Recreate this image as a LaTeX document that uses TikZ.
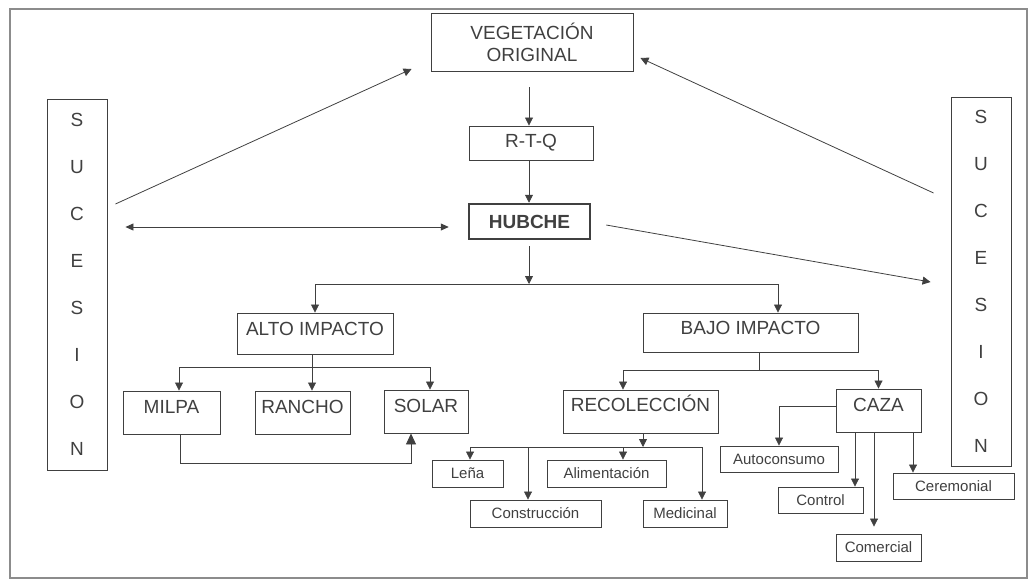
\documentclass[tikz,border=0pt]{standalone}
\usepackage{fontspec}
\setmainfont{Liberation Sans}
\usetikzlibrary{arrows.meta,positioning}
\definecolor{ink}{gray}{0.25}
\definecolor{rim}{gray}{0.55}
\tikzset{box/.style={draw=ink,line width=0.9pt,inner sep=0pt,text=ink,
           font=\fontsize{19}{22}\selectfont},
         topbox/.style={box,anchor=base},
         smallbox/.style={draw=ink,line width=0.9pt,inner sep=0pt,text=ink,
           minimum height=27pt,font=\fontsize{15}{17}\selectfont},
         sucbox/.style={box,minimum width=60pt,align=center,
           font=\fontsize{19}{47.1}\selectfont},
         link/.style={draw=ink,line width=0.8pt},
         tip/.style={-{Triangle[length=8pt,width=8pt]}},
         bigtip/.style={-{Triangle[length=11pt,width=10pt]}},
         twotip/.style={{Triangle[length=8pt,width=7pt]}-{Triangle[length=8pt,width=7pt]}}}

\begin{document}
\begin{tikzpicture}[x=1pt,y=-1pt]
  \useasboundingbox (0,0) rectangle (1035,584);
  \draw[rim,line width=1.2pt] (10,9) rectangle (1027,578);

  \node[box,minimum width=202pt,minimum height=58pt,align=center] (veg) at (532,42) {VEGETACIÓN\\ORIGINAL};
  \node[box,minimum width=124pt,minimum height=34pt] (rtq) at (531,143) {R-T-Q};
  \node[box,line width=2.5pt,minimum width=121pt,minimum height=35pt,font=\fontsize{19}{22}\bfseries] (hubche) at (529.5,221.5) {HUBCHE};

  \node[sucbox,minimum height=371pt] (sucl) at (77,284.5) {S\\U\\C\\E\\S\\I\\O\\N};
  \node[sucbox,minimum height=369pt] (sucr) at (981,281.5) {S\\U\\C\\E\\S\\I\\O\\N};

  \node[topbox,minimum width=156pt,text height=22pt,text depth=19pt] (alto) at (315,335) {ALTO IMPACTO};
  \node[topbox,minimum width=215pt,text height=21pt,text depth=18pt] (bajo) at (750.5,334) {BAJO IMPACTO};

  \node[topbox,minimum width=97pt,text height=22pt,text depth=21pt] (milpa) at (171.5,413) {MILPA};
  \node[topbox,minimum width=95pt,text height=22pt,text depth=21pt] (rancho) at (302.5,413) {RANCHO};
  \node[topbox,minimum width=84pt,text height=22pt,text depth=21pt] (solar) at (426,412) {SOLAR};
  \node[topbox,minimum width=155pt,text height=21pt,text depth=22pt] (recol) at (640.5,411) {RECOLECCIÓN};
  \node[topbox,minimum width=85pt,text height=22pt,text depth=21pt] (caza) at (878.5,411) {CAZA};

  \node[smallbox,minimum width=71pt] (lena) at (467.5,473.5) {Leña};
  \node[smallbox,minimum width=119pt] (alim) at (606.5,473.5) {Alimentación};
  \node[smallbox,minimum width=131pt] (const) at (535.5,513.5) {Construcción};
  \node[smallbox,minimum width=84pt] (medic) at (685,513.5) {Medicinal};
  \node[smallbox,minimum width=118pt,minimum height=26pt] (autoc) at (779,459) {Autoconsumo};
  \node[smallbox,minimum width=85pt,minimum height=26pt] (contr) at (820.5,500) {Control};
  \node[smallbox,minimum width=85pt] (comer) at (878.5,547.5) {Comercial};
  \node[smallbox,minimum width=121pt,minimum height=26pt] (cerem) at (953.5,486) {Ceremonial};

  \coordinate (hsplit) at (529,284);
  \coordinate (asplit) at (312,367);
  \coordinate (bsplit) at (759,370);
  \coordinate (rsplit) at (643,447);

  \draw[link,tip,shorten <=16pt] (veg.south -| hsplit) -- (rtq.north -| hsplit);
  \draw[link,tip] (rtq.south -| hsplit) -- (hubche.north -| hsplit);
  \draw[link,tip,shorten <=6pt] (hubche.south -| hsplit) -- (hsplit);
  \draw[link,tip] (hsplit) -| (alto.north);
  \draw[link,tip] (hsplit) -| ([shift={(27.5,0)}]bajo.north);

  \draw[link] (alto.south -| asplit) -- (asplit);
  \draw[link,tip] (asplit) -| ([shift={(7.5,0)}]milpa.north);
  \draw[link,tip] (asplit) -| ([shift={(9.5,0)}]rancho.north);
  \draw[link,tip] (asplit) -| ([shift={(4,0)}]solar.north);
  \draw[link,bigtip] ([shift={(8.5,0)}]milpa.south) -- ++(0,29) -| ([shift={(-15,0)}]solar.south);

  \draw[link] (bajo.south -| bsplit) -- (bsplit);
  \draw[link,tip] (bsplit) -| ([shift={(-17.5,0)}]recol.north);
  \draw[link,tip] (bsplit) -| (caza.north);

  \draw[link,tip] (recol.south -| rsplit) -- (rsplit);
  \draw[link,tip] (rsplit) -| ([shift={(2.5,0)}]lena.north);
  \draw[link,tip] (rsplit) -| ([shift={(-7.5,0)}]const.north);
  \draw[link,tip] (rsplit) -| ([shift={(16.5,0)}]alim.north);
  \draw[link,tip] (rsplit) -| ([shift={(17,0)}]medic.north);

  \draw[link,tip] ([shift={(0,-4.5)}]caza.west) -| (autoc.north);
  \draw[link,tip] ([shift={(-23.5,0)}]caza.south) -- ([shift={(-23.5,0)}]caza.south |- contr.north);
  \draw[link,tip,shorten >=7pt] ([shift={(-4.5,0)}]caza.south) -- ([shift={(-4.5,0)}]caza.south |- comer.north);
  \draw[link,tip] ([shift={(34.5,0)}]caza.south) -- ([shift={(34.5,0)}]caza.south |- cerem.north);

  \draw[link,tip] ([shift={(8,-80.5)}]sucl.east) -- ([shift={(-19,27)}]veg.west);
  \draw[link,twotip] ([shift={(18,-57.5)}]sucl.east) -- ([shift={(-19,5.5)}]hubche.west);
  \draw[link,tip] ([shift={(-17,-88.5)}]sucr.west) -- ([shift={(7,16)}]veg.east);
  \draw[link,tip] ([shift={(15,3.5)}]hubche.east) -- ([shift={(-20,0.5)}]sucr.west);
\end{tikzpicture}
\end{document}
